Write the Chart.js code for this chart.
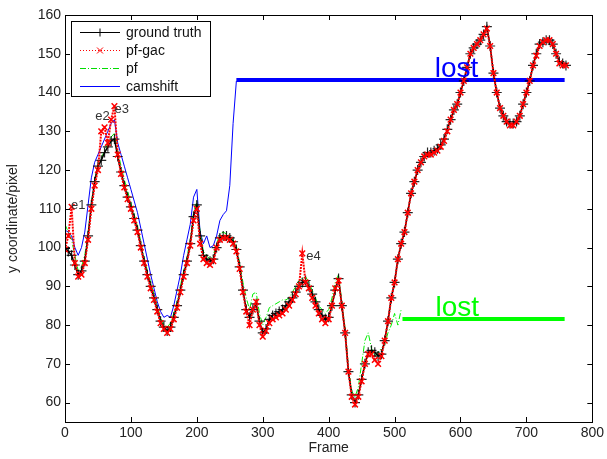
<!DOCTYPE html>
<html>
<head>
<meta charset="utf-8">
<script src="https://cdn.jsdelivr.net/npm/chart.js@4/dist/chart.umd.min.js"></script>
<style>
  body { margin: 0; background: #fff; }
  canvas { display: block; }
</style>
</head>
<body>
<canvas id="trackChart" width="607" height="459"></canvas>
<script>
// frames are sampled every 5 frames
const step5 = (n) => Array.from({ length: n }, (_, i) => i * 5);

const gtFrames = step5(153);   // 0..760
const gtValues = [
  100, 99, 98, 95.5, 93, 94, 96.5, 103, 111, 117,
  121, 122.5, 124.5, 126, 127.5, 128, 123.5, 119.5, 116, 113,
  110.5, 107.5, 104.5, 100.5, 96.5, 93, 90, 87, 84, 81,
  79.5, 78.5, 79.5, 82, 85, 89, 93, 96.5, 101, 108,
  111, 103, 98, 97, 96.5, 97, 100, 102.5, 103, 103,
  102.5, 101.5, 99.5, 95, 89, 84, 82, 84, 85.5, 81,
  78, 79, 81.5, 82.5, 83, 83.5, 84, 85, 86, 87,
  88.5, 90, 91, 91.5, 90, 88, 86, 84, 82.5, 81.5,
  82, 85, 89, 92, 85, 78, 68, 62, 60, 62,
  66, 70, 73, 73.5, 73, 72, 72.5, 76, 81, 87,
  91, 97, 101, 104, 109, 114, 117, 120, 122, 123.5,
  124.5, 124.5, 125, 125.5, 126.5, 128, 130.5, 133, 135.5, 137,
  140, 143, 146.5, 150, 151.5, 152.5, 153.5, 155, 157, 152,
  145, 140, 136, 134, 132.5, 132, 132, 132.5, 134, 137,
  140, 143, 147, 150, 152.5, 153, 153.5, 153.5, 152.5, 150,
  148, 147.5, 147
];

const pfGacValues = [
  99.5, 103, 110.5, 96, 92.5, 93, 96, 102, 110, 116,
  120, 130, 131, 127, 133, 136.5, 124, 119, 115.5, 112.5,
  110, 107, 104, 100, 96, 92.5, 89.5, 86.5, 83.5, 80.5,
  79, 78, 79, 81.5, 84.5, 88.5, 92.5, 96, 100.5, 107,
  110, 101, 97, 96, 95.5, 96.5, 100, 102, 102.5, 102.5,
  102, 101, 99, 94.5, 88.5, 83.5, 80, 84, 86, 80,
  77, 78.5, 80.5, 81.5, 82, 82.5, 83, 84, 85, 86.5,
  88, 90, 98.5, 91, 89.5, 87, 85, 83, 81.5, 80.5,
  81.5, 85, 89.5, 91.5, 85, 78, 68, 61.5, 59.5, 61.5,
  65.5, 70, 72.5, 72.5, 71, 70, 72, 76, 81, 87,
  91, 97, 101, 104, 109, 114, 117, 120, 122, 123.5,
  124, 124, 124.5, 125, 126, 127.5, 130, 133, 135.5, 137,
  140, 143, 146.5, 150, 151.5, 152.5, 153.5, 155, 156.5, 152,
  145, 140, 136, 134, 132.5, 131.5, 131.5, 132.5, 134, 137,
  140, 143, 147, 149.5, 152, 153, 153.5, 153.5, 152.5, 150,
  147.5, 147, 147
];

const pfFrames = step5(103);   // 0..510
const pfValues = [
  106, 104, 102, 98, 94, 95, 98, 104, 111.5, 117.5,
  121.5, 123, 125, 127, 128.5, 129.5, 125, 121, 117.5, 114.5,
  111.5, 108.5, 105.5, 101.5, 97.5, 94, 91, 88, 85, 82,
  80, 79.5, 80.5, 83, 86, 90, 94, 97.5, 102, 109,
  112, 104, 99, 98, 97, 98, 101, 103.5, 104, 103.5,
  103, 102, 100.5, 96, 91, 87, 84, 88, 88.5, 83,
  80, 82, 84.5, 85, 85.5, 86, 86.5, 86.5, 87, 88.5,
  90, 91.5, 92, 92.5, 91, 89, 87, 85, 84, 83,
  84, 87, 91, 93, 86, 79, 69, 63, 61.5, 64,
  70, 76, 78, 74, 72, 73, 74, 75, 78, 80,
  83, 80, 84
];

const camFrames = step5(53);   // 0..260
const camValues = [
  104.5, 104, 103, 100, 98, 100, 104, 111, 118, 122,
  124, 126, 128, 130, 132, 133, 127, 124, 121, 118,
  115, 112, 109, 105, 101, 97, 93, 89.5, 86, 83.5,
  82, 82.5, 82, 85, 89, 93, 98, 102, 106, 113,
  115, 104, 101, 103, 100, 100.5, 103, 107, 108.5, 109.5,
  116, 132, 143
];

// "lost" segments
const camLostFrames = [260, 758];
const camLostValues = [143.2, 143.2];
const pfLostFrames = [512, 758];
const pfLostValues = [81.6, 81.6];

const xTicks = [0, 100, 200, 300, 400, 500, 600, 700, 800];
const yTicks = [60, 70, 80, 90, 100, 110, 120, 130, 140, 150, 160];

// text notes: [text, frame, value]
const noteLabels = [["e1", 9, 109.9], ["e2", 46, 132.9], ["e3", 75, 134.7], ["e4", 366, 96.7]];
const lostLabels = [["lost", 561, 143.2, "#0000ff"], ["lost", 562, 81.6, "#00ff00"]];

const legendItems = [
  { label: "ground truth", color: "#000000", dash: [], marker: "plus" },
  { label: "pf-gac", color: "#ff0000", dash: [1, 2], marker: "x" },
  { label: "pf", color: "#00dd00", dash: [6, 2, 1, 2], marker: null },
  { label: "camshift", color: "#0000ff", dash: [], marker: null }
];

const toPoints = (xs, ys) => xs.map((x, i) => ({ x: x, y: ys[i] }));
const FONT = "'Liberation Sans', Arial, sans-serif";

const frameBox = {
  id: "frameBox",
  beforeDraw(chart) {
    const ctx = chart.ctx;
    ctx.save();
    ctx.fillStyle = "#fff";
    ctx.fillRect(0, 0, chart.width, chart.height);
    ctx.restore();
  },
  afterDraw(chart) {
    const ctx = chart.ctx;
    const a = chart.chartArea;
    const xs = chart.scales.x, ys = chart.scales.y;
    ctx.save();
    ctx.strokeStyle = "#000";
    ctx.lineWidth = 1;
    ctx.strokeRect(Math.round(a.left) + 0.5, Math.round(a.top) + 0.5,
      Math.round(a.right - a.left), Math.round(a.bottom - a.top));
    ctx.beginPath();
    xTicks.forEach(v => {
      const px = Math.round(xs.getPixelForValue(v)) + 0.5;
      ctx.moveTo(px, a.bottom); ctx.lineTo(px, a.bottom - 5);
      ctx.moveTo(px, a.top); ctx.lineTo(px, a.top + 5);
    });
    yTicks.forEach(v => {
      const py = Math.round(ys.getPixelForValue(v)) + 0.5;
      ctx.moveTo(a.left, py); ctx.lineTo(a.left + 5, py);
      ctx.moveTo(a.right, py); ctx.lineTo(a.right - 5, py);
    });
    ctx.stroke();

    // e1..e4 notes
    ctx.fillStyle = "#333";
    ctx.font = "13px " + FONT;
    ctx.textBaseline = "alphabetic";
    noteLabels.forEach(([t, f, v]) => {
      ctx.fillText(t, xs.getPixelForValue(f), ys.getPixelForValue(v));
    });
    // lost labels, sitting on top of the thick line
    ctx.font = "28px " + FONT;
    lostLabels.forEach(([t, f, v, c]) => {
      ctx.fillStyle = c;
      ctx.fillText(t, xs.getPixelForValue(f), ys.getPixelForValue(v) - 3);
    });

    // legend box
    const bx = 71.5, by = 21.5, bw = 139, bh = 75;
    ctx.fillStyle = "#fff";
    ctx.fillRect(bx, by, bw, bh);
    ctx.strokeStyle = "#000";
    ctx.strokeRect(bx, by, bw, bh);
    ctx.font = "14px " + FONT;
    ctx.textBaseline = "middle";
    legendItems.forEach((it, i) => {
      const y = 32.5 + i * 18;
      ctx.strokeStyle = it.color;
      ctx.lineWidth = 1;
      ctx.setLineDash(it.dash);
      ctx.beginPath();
      ctx.moveTo(80, y); ctx.lineTo(120, y);
      ctx.stroke();
      ctx.setLineDash([]);
      if (it.marker === "plus") {
        ctx.beginPath();
        ctx.moveTo(96, y); ctx.lineTo(104, y);
        ctx.moveTo(100, y - 4); ctx.lineTo(100, y + 4);
        ctx.stroke();
      } else if (it.marker === "x") {
        ctx.beginPath();
        ctx.moveTo(97, y - 3); ctx.lineTo(103, y + 3);
        ctx.moveTo(103, y - 3); ctx.lineTo(97, y + 3);
        ctx.stroke();
      }
      ctx.fillStyle = "#111";
      ctx.fillText(it.label, 126, y + 1);
    });
    ctx.restore();
  }
};

new Chart(document.getElementById("trackChart").getContext("2d"), {
  type: "scatter",
  data: {
    datasets: [
      {
        label: "pf-gac",
        data: toPoints(gtFrames, pfGacValues),
        showLine: true,
        borderColor: "#ff0000",
        borderWidth: 2,
        borderDash: [2, 1],
        pointStyle: "crossRot",
        pointRadius: 4,
        pointBorderColor: "#ff0000",
        pointBorderWidth: 1.5,
        order: 0
      },
      {
        label: "ground truth",
        data: toPoints(gtFrames, gtValues),
        showLine: true,
        borderColor: "#000000",
        borderWidth: 1.5,
        pointStyle: "cross",
        pointRadius: 5,
        pointBorderColor: "rgba(0,0,0,0.85)",
        pointBorderWidth: 1.2,
        order: 1
      },
      {
        label: "pf",
        data: toPoints(pfFrames, pfValues),
        showLine: true,
        borderColor: "#00ee00",
        borderWidth: 1,
        borderDash: [6, 2, 1, 2],
        pointRadius: 0,
        order: 2
      },
      {
        label: "camshift",
        data: toPoints(camFrames, camValues),
        showLine: true,
        borderColor: "#0000ff",
        borderWidth: 1,
        pointRadius: 0,
        order: 3
      },
      {
        label: "camshift lost",
        data: toPoints(camLostFrames, camLostValues),
        showLine: true,
        borderColor: "#0000ff",
        borderWidth: 4,
        pointRadius: 0,
        order: 4
      },
      {
        label: "pf lost",
        data: toPoints(pfLostFrames, pfLostValues),
        showLine: true,
        borderColor: "#00ff00",
        borderWidth: 4,
        pointRadius: 0,
        order: 4
      }
    ]
  },
  options: {
    responsive: false,
    animation: false,
    layout: { padding: { left: 0, top: 15, right: 13, bottom: 0 } },
    scales: {
      x: {
        type: "linear",
        min: 0,
        max: 800,
        afterBuildTicks: (s) => { s.ticks = xTicks.map(v => ({ value: v })); },
        afterFit: (s) => { s.height = 37; },
        grid: { display: false, drawTicks: false },
        border: { display: false },
        ticks: { color: "#222", font: { size: 14, family: FONT }, padding: 3, maxRotation: 0 },
        title: { display: true, text: "Frame", color: "#222", font: { size: 14, family: FONT }, padding: 2 }
      },
      y: {
        type: "linear",
        min: 55,
        max: 160,
        afterBuildTicks: (s) => { s.ticks = yTicks.map(v => ({ value: v })); },
        afterFit: (s) => { s.width = 65; },
        grid: { display: false, drawTicks: false },
        border: { display: false },
        ticks: { color: "#222", font: { size: 14, family: FONT }, padding: 4 },
        title: { display: true, text: "y coordinate/pixel", color: "#222", font: { size: 14, family: FONT }, padding: 5 }
      }
    },
    plugins: {
      legend: { display: false },
      tooltip: { enabled: false }
    }
  },
  plugins: [frameBox]
});
</script>
</body>
</html>
